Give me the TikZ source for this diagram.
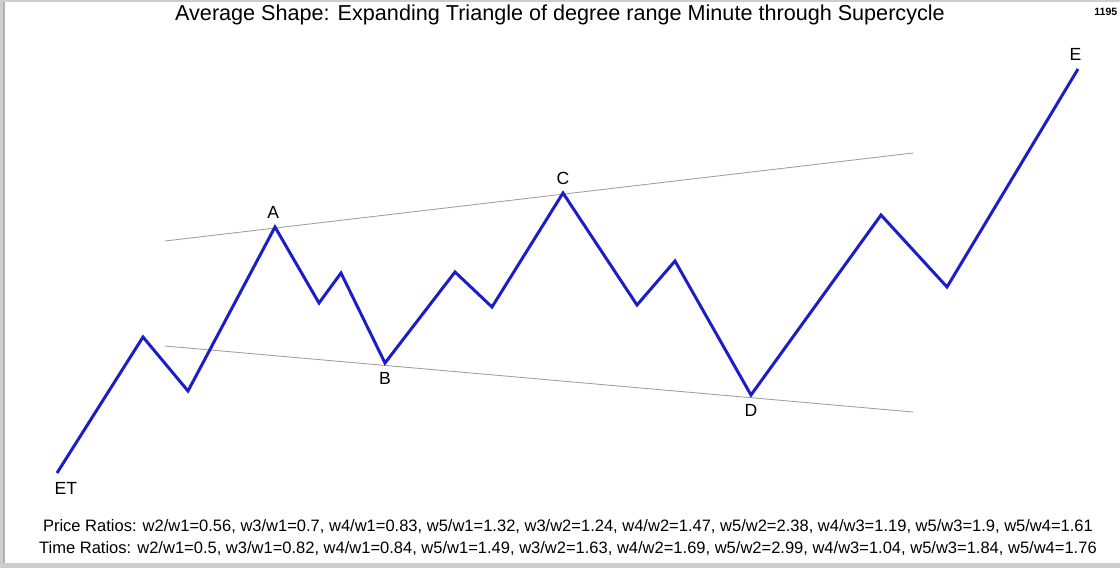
\documentclass[tikz,border=0pt]{standalone}
\usepackage{fontspec}
\setmainfont{Liberation Sans}
\usetikzlibrary{positioning}
\definecolor{waveblue}{RGB}{28,28,200}
\definecolor{framegray}{RGB}{205,205,205}

\begin{document}
\begin{tikzpicture}[
  x=0.02cm, y=-0.02cm,
  wave/.style={draw=waveblue, line width=1.7pt, line join=miter},
  channel/.style={draw=gray!75, line width=0.5pt},
  ptlabel/.style={inner sep=1pt, font=\fontsize{10}{11}\selectfont},
  ratios/.style={inner sep=0pt, font=\fontsize{9.4}{10}\selectfont},
]
  \useasboundingbox (0,0) rectangle (1120,568);

  % --- frame ---
  \fill[framegray] (0,0) rectangle (1120,2);
  \fill[framegray] (0,0) rectangle (5,568);
  \fill[framegray] (0,563) rectangle (1120,568);
  \draw[gray!60, line width=0.6pt] (4,2) -- (4,563);

  % --- title ---
  \node[inner sep=0pt, font=\fontsize{12.3}{13}\selectfont] (title) at (560,15)
    {Average Shape: Expanding Triangle of degree range Minute through Supercycle};
  \node[inner sep=0pt, font=\fontsize{6}{6}\selectfont\bfseries, anchor=west] (tag) at (1094,12) {1195};

  % --- wave points ---
  \foreach \n/\x/\y in {0/57/473, 1/143/337, 2/188/391, 3/275/227, 4/319/303,
                        5/341/273, 6/385/363, 7/455/272, 8/492/307, 9/563/193,
                        10/637/305, 11/675/261, 12/751/395, 13/881/215,
                        14/947/287, 15/1078/69}
    \coordinate (w\n) at (\x,\y);

  % --- channel lines ---
  \coordinate (u1) at (165,241); \coordinate (u2) at (913,153);
  \coordinate (l1) at (165,346); \coordinate (l2) at (913,412);
  \draw[channel] (u1) -- (u2);
  \draw[channel] (l1) -- (l2);

  % --- wave ---
  \draw[wave] (w0) \foreach \i in {1,...,15}{ -- (w\i)};

  % --- point labels ---
  \node[ptlabel, below=4pt of w0, xshift=5pt] (lET) {ET};
  \node[ptlabel, above=3.5pt of w3, xshift=-1pt] (lA) {A};
  \node[ptlabel, below=4pt of w6] (lB) {B};
  \node[ptlabel, above=3.5pt of w9] (lC) {C};
  \node[ptlabel, below=4pt of w12] (lD) {D};
  \node[ptlabel, above=3.5pt of w15, xshift=-1.5pt] (lE) {E};

  % --- ratios ---
  \node[ratios] (price) at (568,527)
    {Price Ratios: w2/w1=0.56, w3/w1=0.7, w4/w1=0.83, w5/w1=1.32, w3/w2=1.24, w4/w2=1.47, w5/w2=2.38, w4/w3=1.19, w5/w3=1.9, w5/w4=1.61};
  \node[ratios] (time) at (568,549)
    {Time Ratios: w2/w1=0.5, w3/w1=0.82, w4/w1=0.84, w5/w1=1.49, w3/w2=1.63, w4/w2=1.69, w5/w2=2.99, w4/w3=1.04, w5/w3=1.84, w5/w4=1.76};
\end{tikzpicture}
\end{document}
